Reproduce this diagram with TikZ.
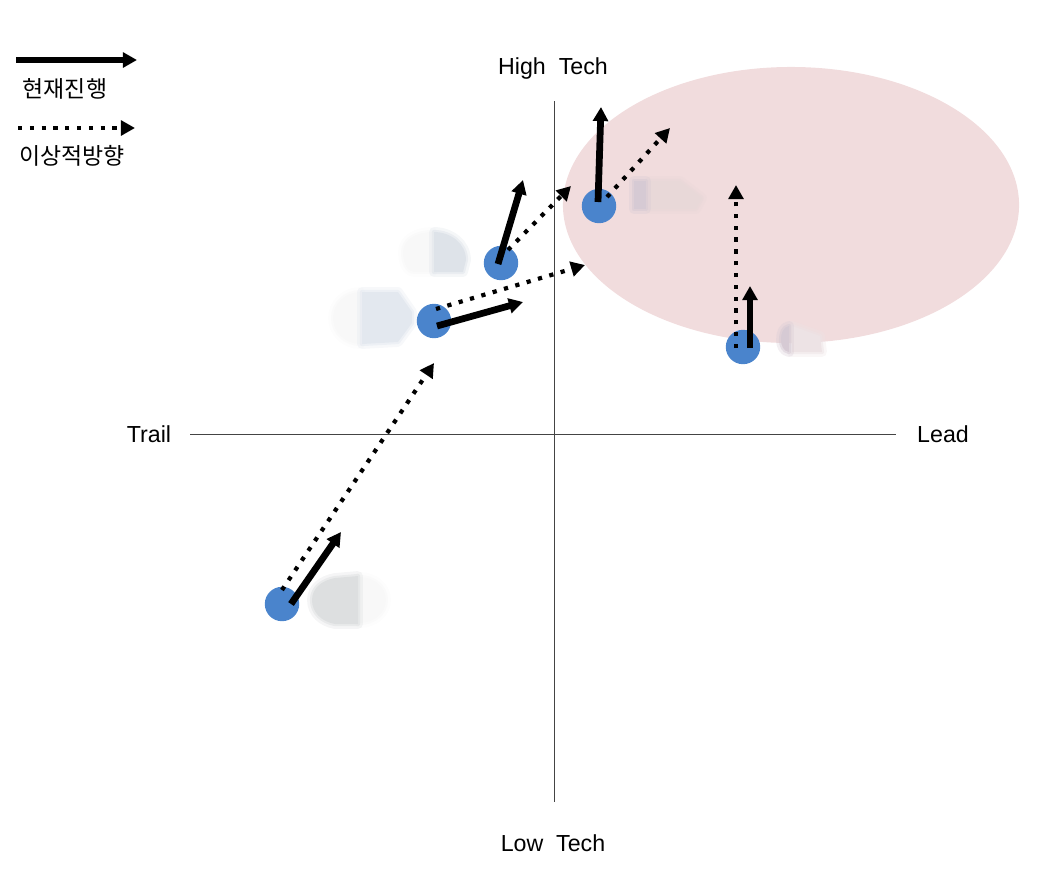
\documentclass[tikz,border=0pt]{standalone}
\usepackage{fontspec}
\setmainfont{Liberation Sans}
\newfontfamily\krfont{Noto Sans CJK KR}
\usetikzlibrary{
  arrows.meta,
  shapes.geometric
}
\definecolor{zonepink}{HTML}{F1DCDD}
\definecolor{dotblue}{HTML}{4A84CC}
\definecolor{axisgrey}{HTML}{444444}
\definecolor{logopale}{HTML}{F8F8F8}
\definecolor{logoblue}{HTML}{E3E8EF}
\definecolor{logoblue2}{HTML}{DEE3E9}
\definecolor{logogrey}{HTML}{DDDFE0}
\definecolor{logorose}{HTML}{E8D8D8}
\definecolor{logomauve}{HTML}{D6CAD4}
\definecolor{logolight}{HTML}{EDE3E5}
\tikzset{
  zone/.style={
    ellipse, fill=zonepink, inner sep=0pt,
    minimum width=11.4cm, minimum height=6.9cm
  },
  firm/.style={
    circle, fill=dotblue, inner sep=0pt, minimum size=0.86cm
  },
  axisline/.style={
    draw=axisgrey, line width=0.7pt
  },
  axislabel/.style={
    font=\fontsize{16.5}{20}\selectfont, inner sep=0pt
  },
  legendlabel/.style={
    font=\fontsize{16.3}{19}\krfont, inner sep=0pt
  },
  nowarrow/.style={
    -{Triangle[length=10pt,width=10.5pt]}, line width=4.8pt, color=black
  },
  idealarrow/.style={
    -{Triangle[length=10pt,width=10.5pt]}, line width=3pt, color=black,
    dash pattern=on 3pt off 5.4pt
  },
  softblob/.style={
    fill=#1, draw=#1, line width=3pt, line join=round, draw opacity=0.5,
    preaction={draw=#1, line width=7pt, line join=round, draw opacity=0.3}
  },
}
\begin{document}
\begin{tikzpicture}[x=0.025cm,y=-0.025cm]
  \useasboundingbox (0,0) rectangle (1054,890);
  \node[zone] (goal) at (791,205) {};

  % blurred logos
  \path[softblob=logopale] (403,252) to[out=90,in=180] (432,232) -- (432,272) -- (415,272) to[out=180,in=-90] cycle;
  \path[softblob=logopale] (333,318) to[out=90,in=180] (360,292) -- (360,344) to[out=180,in=-90] cycle;
  \path[softblob=logopale] (360,577) to[out=0,in=90] (386,600) to[out=-90,in=0] (360,623) -- cycle;
  \path[softblob=logoblue2] (434,232) to[out=0,in=90] (466,260) -- (463,272) -- (434,272) -- cycle;
  \path[softblob=logoblue] (362,292) -- (398,292) -- (412,312) -- (412,323) -- (398,342) -- (362,344) -- cycle;
  \path[softblob=logogrey] (358,576) -- (335,578) to[out=190,in=90] (312,600) to[out=-90,in=170] (335,624) -- (358,624) -- cycle;
  \path[softblob=logorose] (650,181) -- (680,181) -- (702,198) -- (696,209) -- (650,209) -- cycle;
  \path[softblob=logomauve] (634,181) -- (646,181) -- (646,209) -- (634,209) -- cycle;
  \path[softblob=logolight] (792,326) -- (820,336) -- (822,352) -- (792,352) -- cycle;
  \path[softblob=logomauve] (789,326) to[out=190,in=90] (781,340) to[out=-90,in=170] (789,352) -- cycle;

  % axes
  \node[axislabel] (high) at (553,68) {High\ \ Tech};
  \node[axislabel] (low) at (553,843) {Low\ \ Tech};
  \node[axislabel] (trail) at (149,434) {Trail};
  \node[axislabel] (lead) at (943,434) {Lead};
  \coordinate (vtop) at (554,101);
  \coordinate (vbot) at (554,802);
  \coordinate (hleft) at (190,434);
  \coordinate (hright) at (896,434);
  \draw[axisline] (vtop) -- (vbot);
  \draw[axisline] (hleft) -- (hright);

  % firms
  \node[firm] (a) at (282,604) {};
  \node[firm] (b) at (434,321) {};
  \node[firm] (c) at (501,263) {};
  \node[firm] (d) at (599,206) {};
  \node[firm] (e) at (743,347) {};

  % ideal direction
  \coordinate (a1) at (434,363);
  \coordinate (b1) at (585,265);
  \coordinate (c1) at (571,186);
  \coordinate (d1) at (670,128);
  \coordinate (e1) at (736,185);
  \draw[idealarrow] (282,590) -- (a1);
  \draw[idealarrow] (436,309) -- (b1);
  \draw[idealarrow] (508,250) -- (c1);
  \draw[idealarrow] (607,197) -- (d1);
  \draw[idealarrow] (736,348) -- (e1);

  % current direction
  \coordinate (a2) at (341,532);
  \coordinate (b2) at (523,302);
  \coordinate (c2) at (523,180);
  \coordinate (d2) at (601,107);
  \coordinate (e2) at (750,286);
  \draw[nowarrow] (291,604) -- (a2);
  \draw[nowarrow] (437,326) -- (b2);
  \draw[nowarrow] (498,264) -- (c2);
  \draw[nowarrow] (598,202) -- (d2);
  \draw[nowarrow] (750,348) -- (e2);

  % legend
  \coordinate (k1) at (16,60);
  \coordinate (k2) at (137,60);
  \coordinate (k3) at (18,128);
  \coordinate (k4) at (135,128);
  \draw[nowarrow] (k1) -- (k2);
  \draw[idealarrow] (k3) -- (k4);
  \node[legendlabel] (nowtext) at (65,89) {현재진행};
  \node[legendlabel] (idealtext) at (72,156) {이상적방향};
\end{tikzpicture}
\end{document}
